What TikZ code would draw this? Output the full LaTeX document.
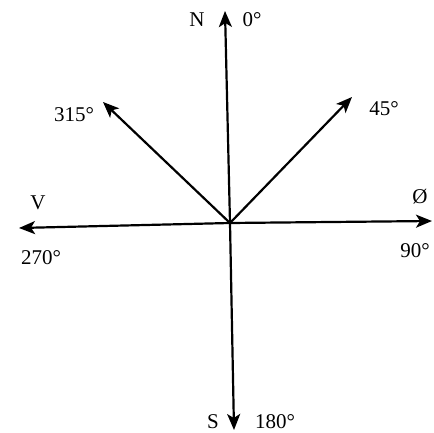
\documentclass[tikz,border=0pt]{standalone}
\usepackage{fontspec}
\setmainfont{Liberation Serif}
\usetikzlibrary{arrows.meta}
\begin{document}
\begin{tikzpicture}[x=1pt, y=-1pt, every node/.style={font=\fontsize{21}{23}\selectfont, inner sep=0pt},
  pil/.style={line width=2.2pt, -{Stealth[length=16pt, width=13pt, inset=4pt]}}]
  \useasboundingbox (0,0) rectangle (434,433);
  % Centrum og pilspidser
  \coordinate (O) at (230,223);
  \coordinate (Nt) at (225,11);
  \coordinate (St) at (234,430);
  \coordinate (Vt) at (19,228);
  \coordinate (Et) at (432,221);
  \coordinate (NEt) at (352,97);
  \coordinate (NWt) at (103,102);

  \draw[pil] (O) -- (Nt);
  \draw[pil] (O) -- (St);
  \draw[pil] (O) -- (Vt);
  \draw[pil] (O) -- (Et);
  \draw[pil] (O) -- (NEt);
  \draw[pil] (O) -- (NWt);

  % Tekster
  \node (N) at (197,20) {N};
  \node (n0) at (252,20) {0°};
  \node (S) at (213,422) {S};
  \node (s180) at (275,422) {180°};
  \node (V) at (38,203) {V};
  \node (v270) at (41,258) {270°};
  \node (Ø) at (420,197) {Ø};
  \node (o90) at (415,251) {90°};
  \node (nw315) at (74,115) {315°};
  \node (ne45) at (384,109) {45°};
\end{tikzpicture}
\end{document}
